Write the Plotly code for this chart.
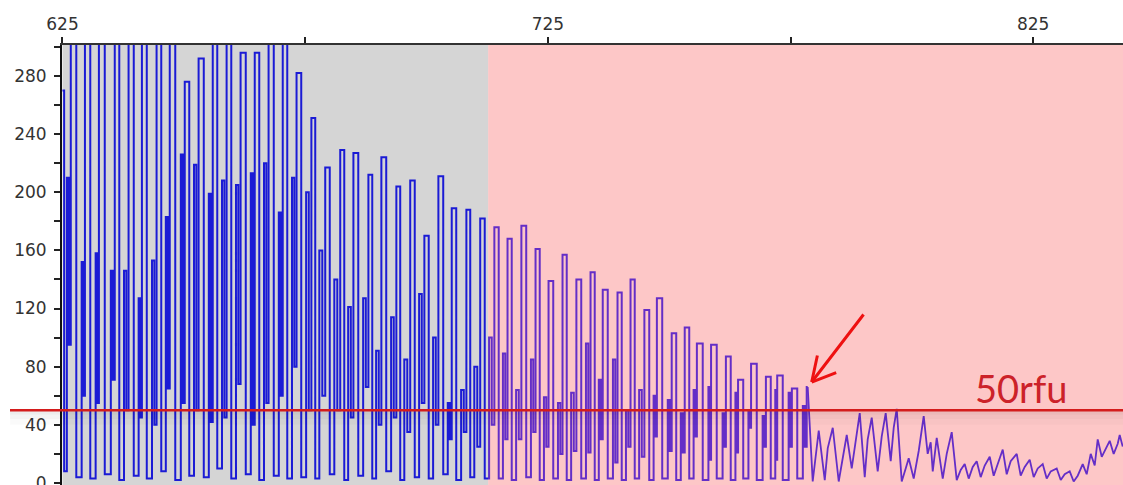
import plotly.graph_objects as go

# Fragment ladder (size in bp) with one tall peak per fragment.
# Each fragment: deep baseline dip -> small leading bump -> shallow dip -> tall peak
dip_bp = [625.68, 628.77, 631.65, 634.74, 637.42, 640.51, 643.19, 646.07, 649.16, 651.84,
          654.93, 657.61, 660.49, 663.58, 666.26, 669.35, 672.03, 674.91, 677.59, 680.68,
          683.57, 686.66, 689.33, 692.42, 695.10, 698.19, 701.07, 704.16, 706.84, 709.52,
          712.61, 715.49, 718.17, 721.26, 723.94, 726.83, 729.51, 732.60, 735.28, 738.16,
          740.84, 743.52, 746.61, 749.49, 752.17, 754.85, 757.94, 760.82, 763.50, 766.18,
          769.07, 771.75, 774.43, 777.32]
peak_bp = [626.92, 629.80, 632.68, 635.98, 638.86, 641.54, 644.63, 647.31, 650.40, 653.29,
           656.17, 659.06, 661.94, 664.82, 667.71, 670.59, 673.47, 676.56, 679.45, 682.54,
           685.22, 688.31, 690.98, 694.07, 696.96, 699.84, 702.73, 705.41, 708.50, 711.38,
           714.26, 716.94, 719.83, 722.71, 725.39, 728.27, 731.16, 734.04, 736.52, 739.60,
           742.28, 745.17, 747.64, 750.73, 753.41, 755.88, 758.77, 761.86, 764.33, 767.01,
           770.10, 772.36, 775.45, 778.54]
peak_rfu = [310, 310, 310, 310, 310, 310, 310, 310, 276, 292,
            310, 310, 296, 296, 310, 310, 282, 251, 217, 229,
            227, 212, 224, 204, 208, 170, 211, 189, 188, 182,
            176, 168, 177, 161, 139, 157, 140, 145, 133, 131,
            140, 119, 127, 103, 107, 96, 95, 87, 71, 82,
            73, 74, 65, 66]
bump_rfu = [210, 152, 158, 146, 146, 127, 153, 183, 226, 219,
            199, 208, 205, 213, 220, 186, 210, 200, 160, 140,
            121, 127, 91, 114, 85, 130, 100, 55, 64, 80,
            100, 89, 64, 85, 59, 55, 62, 96, 71, 85,
            50, 64, 60, 57, 48, 64, 66, 48, 62, 50,
            46, 64, 62, 53]
shallow_rfu = [95, 60, 55, 71, 50, 45, 40, 65, 55, 50,
               42, 45, 68, 40, 55, 60, 80, 50, 60, 50,
               45, 66, 40, 45, 35, 55, 40, 30, 35, 25,
               40, 30, 30, 35, 25, 20, 22, 21, 30, 14,
               25, 18, 32, 22, 21, 32, 16, 25, 21, 38,
               25, 16, 25, 25]
dip_rfu = [8, 4, 3, 6, 2, 5, 3, 8, 2, 5,
           4, 10, 3, 6, 2, 5, 3, 4, 3, 6,
           2, 5, 3, 8, 2, 4, 3, 6, 2, 4,
           3, 3, 2, 4, 2, 3, 2, 3, 2, 3,
           2, 3, 2, 3, 2, 3, 2, 3, 2, 3,
           2, 3, 2, 3]

# Trace start at the left edge
start_bp, start_rfu = 625.0, 270

# Low-level tail after the last called peak
tail_bp = [779.57, 780.81, 782.05, 782.67, 783.70, 784.93, 785.75, 786.58, 787.61, 788.43,
           789.26, 790.29, 790.90, 791.73, 792.96, 793.79, 794.61, 795.64, 796.26, 796.88,
           797.91, 798.73, 799.35, 800.38, 801.41, 802.44, 803.26, 803.88, 804.30, 805.12,
           806.36, 807.18, 808.21, 809.24, 810.06, 810.89, 811.71, 812.54, 813.36, 814.18,
           815.01, 816.04, 816.86, 817.69, 818.72, 819.54, 820.36, 821.60, 822.42, 823.25,
           824.28, 825.10, 825.93, 826.96, 827.78, 828.61, 829.84, 830.67, 831.49, 832.52,
           833.34, 834.17, 835.20, 836.02, 836.85, 837.67, 838.29, 839.12, 839.94, 840.76,
           841.58, 842.41, 842.82, 843.44]
tail_rfu = [1, 36, 2, 24, 38, 1, 18, 33, 10, 28,
            48, 4, 30, 45, 8, 32, 48, 15, 38, 51,
            1, 10, 17, 3, 22, 46, 20, 28, 8, 31,
            3, 20, 35, 2, 9, 13, 3, 11, 15, 4,
            12, 18, 5, 13, 23, 6, 15, 20, 5, 11,
            16, 4, 10, 13, 3, 8, 10, 2, 6, 8,
            1, 5, 13, 6, 20, 12, 30, 18, 24, 29,
            20, 27, 33, 25]

threshold_rfu = 50
window_start, window_split, window_end = 625.0, 712.7, 843.5
trace_color = "#0000ff"

xs, ys = [start_bp], [start_rfu]
for d, p, pr, br, sr, dr in zip(dip_bp, peak_bp, peak_rfu, bump_rfu, shallow_rfu, dip_rfu):
    xs += [d, d + 0.35 * (p - d), d + 0.66 * (p - d), p]
    ys += [dr, br, sr, pr]

fig = go.Figure()
# ladder region drawn as a stepped trace, tail as a plain polyline
fig.add_trace(go.Scatter(x=xs, y=ys, mode="lines",
                         line=dict(color=trace_color, width=2, shape="hvh"),
                         hoverinfo="skip"))
fig.add_trace(go.Scatter(x=[xs[-1]] + tail_bp, y=[ys[-1]] + tail_rfu, mode="lines",
                         line=dict(color=trace_color, width=1.8),
                         hoverinfo="skip"))

y_lo, y_hi = -1.4, 301.3

shapes = [
    # grey and pink windows laid over the trace
    dict(type="rect", xref="x", yref="y", x0=window_start, x1=window_split, y0=y_lo, y1=y_hi,
         fillcolor="rgba(100,100,100,0.27)", line=dict(width=0), layer="above"),
    dict(type="rect", xref="x", yref="y", x0=window_split, x1=window_end, y0=y_lo, y1=y_hi,
         fillcolor="rgba(250,115,115,0.40)", line=dict(width=0), layer="above"),
]
# soft shadow under the threshold line
for top, bot, op in [(threshold_rfu, threshold_rfu - 3, 0.07),
                     (threshold_rfu - 3, threshold_rfu - 6, 0.045),
                     (threshold_rfu - 6, threshold_rfu - 10, 0.02)]:
    shapes.append(dict(type="rect", xref="paper", yref="y", x0=-0.049, x1=1, y0=bot, y1=top,
                       fillcolor=f"rgba(0,0,0,{op})", line=dict(width=0), layer="above"))
shapes.append(dict(type="line", xref="paper", yref="y", x0=-0.049, x1=1,
                   y0=threshold_rfu, y1=threshold_rfu,
                   line=dict(color="#d41c1c", width=2.5), layer="above"))

# arrow pointing at the last peak above threshold: shaft plus two barbs (pixel offsets)
arrow_color = "#ee1111"
arrow_parts = [(53, -69), (6, -28), (26, -10)]
arrows = [dict(x=peak_bp[-1], y=peak_rfu[-1], xref="x", yref="y", text="",
               showarrow=True, arrowhead=0, arrowwidth=3, arrowcolor=arrow_color,
               ax=ax, ay=ay, xshift=4, yshift=5) for ax, ay in arrow_parts]

fig.update_layout(
    width=1123, height=485,
    margin=dict(l=62, r=0, t=45, b=0),
    paper_bgcolor="white", plot_bgcolor="white",
    showlegend=False,
    shapes=shapes,
    xaxis=dict(
        side="top", range=[624.9, window_end], automargin=False,
        tickmode="linear", tick0=625, dtick=100,
        ticks="outside", ticklen=6, tickwidth=2, tickcolor="#222",
        minor=dict(tick0=625, dtick=50, ticks="outside", ticklen=6, tickwidth=2, tickcolor="#222"),
        showline=True, linecolor="#333", linewidth=2,
        showgrid=False, zeroline=False,
        tickfont=dict(family="DejaVu Sans", size=17, color="#333"),
    ),
    yaxis=dict(
        range=[y_lo, y_hi], automargin=False,
        tickmode="linear", tick0=0, dtick=40,
        ticks="outside", ticklen=6, tickwidth=2, tickcolor="#222",
        minor=dict(tick0=0, dtick=20, ticks="outside", ticklen=6, tickwidth=2, tickcolor="#222"),
        showline=True, linecolor="#111", linewidth=2,
        showgrid=False, zeroline=False,
        ticklabelstandoff=4, ticklabeloverflow="allow",
        tickfont=dict(family="DejaVu Sans", size=17, color="#333"),
    ),
    annotations=[
        dict(x=822.4, y=threshold_rfu + 15.5, xref="x", yref="y",
             text=f"{threshold_rfu}rfu", showarrow=False,
             font=dict(family="Lato", size=38, color="#cc2229"),
             xanchor="center", yanchor="middle"),
    ] + arrows,
)

fig.write_html("out.html")
